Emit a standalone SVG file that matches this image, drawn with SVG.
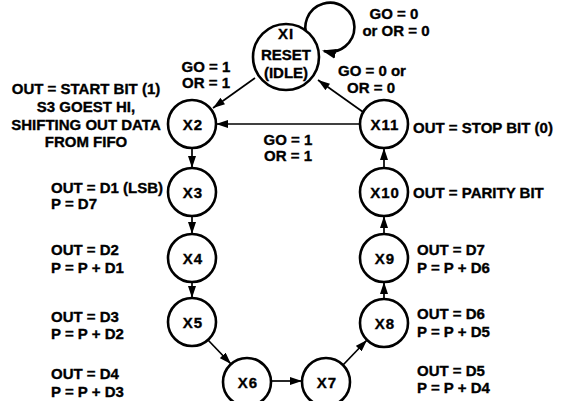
<svg xmlns="http://www.w3.org/2000/svg" width="567" height="401" viewBox="0 0 567 401">
<style>
text{font-family:"Liberation Sans",Arial,sans-serif;font-weight:bold;font-size:15px;fill:#000;stroke:#000;stroke-width:0.35}
.n circle{fill:#fff;stroke:#000;stroke-width:2.6}
.n text{text-anchor:middle;letter-spacing:1px}
.c line{stroke:#000;stroke-width:1.7;fill:none}
.c path{stroke:#000;stroke-width:2.6;fill:none}
.m{text-anchor:middle}
</style>
<defs>
<marker id="ah" viewBox="0 0 12 8" refX="12" refY="4" markerWidth="12" markerHeight="8" markerUnits="userSpaceOnUse" orient="auto">
<path d="M0,0 L12,4 L0,8 z" fill="#000"/>
</marker>
<marker id="ah2" viewBox="0 0 14 10" refX="12" refY="5" markerWidth="14" markerHeight="10" markerUnits="userSpaceOnUse" orient="auto">
<path d="M0,0 L14,5 L0,10 z" fill="#000"/>
</marker>
</defs>
<rect width="567" height="401" fill="#fff"/>
<g class="c">
<path d="M309,40 A24.5,24.5 0 1 1 324,51" marker-end="url(#ah2)"/>
<line x1="255" y1="78" x2="213" y2="108" marker-end="url(#ah)"/>
<line x1="360" y1="124" x2="216" y2="124" marker-end="url(#ah)"/>
<line x1="363" y1="112" x2="318" y2="80" marker-end="url(#ah)"/>
<line x1="192" y1="148" x2="192" y2="168" marker-end="url(#ah)"/>
<line x1="192" y1="216" x2="192" y2="234" marker-end="url(#ah)"/>
<line x1="192" y1="282" x2="192" y2="298" marker-end="url(#ah)"/>
<line x1="208" y1="340" x2="231" y2="364" marker-end="url(#ah)"/>
<line x1="271" y1="381" x2="302" y2="381" marker-end="url(#ah)"/>
<line x1="343" y1="365" x2="367" y2="340" marker-end="url(#ah)"/>
<line x1="384" y1="299" x2="384" y2="282" marker-end="url(#ah)"/>
<line x1="384" y1="234" x2="384" y2="216" marker-end="url(#ah)"/>
<line x1="384" y1="168" x2="384" y2="148" marker-end="url(#ah)"/>
</g>
<g id="XI" class="n"><circle cx="286" cy="57" r="33"/><text x="286" y="39">XI</text><text x="286" y="60" style="letter-spacing:0">RESET</text><text x="286" y="78" style="letter-spacing:0">(IDLE)</text></g>
<g id="X2" class="n"><circle cx="192" cy="124" r="24"/><text x="193" y="129.5">X2</text></g>
<g id="X3" class="n"><circle cx="192" cy="192" r="24"/><text x="193" y="197.5">X3</text></g>
<g id="X4" class="n"><circle cx="192" cy="258" r="24"/><text x="193" y="263.5">X4</text></g>
<g id="X5" class="n"><circle cx="192" cy="322" r="24"/><text x="193" y="327.5">X5</text></g>
<g id="X6" class="n"><circle cx="247" cy="382" r="24"/><text x="248" y="387.5">X6</text></g>
<g id="X7" class="n"><circle cx="326" cy="382" r="24"/><text x="327" y="387.5">X7</text></g>
<g id="X8" class="n"><circle cx="384" cy="323" r="24"/><text x="385" y="328.5">X8</text></g>
<g id="X9" class="n"><circle cx="384" cy="258" r="24"/><text x="385" y="263.5">X9</text></g>
<g id="X10" class="n"><circle cx="384" cy="192" r="24"/><text x="385" y="197.5">X10</text></g>
<g id="X11" class="n"><circle cx="384" cy="124" r="24"/><text x="385" y="129.5">X11</text></g>
<g id="labels">
<text class="m" x="394" y="19">GO = 0</text>
<text class="m" x="396" y="36">or OR = 0</text>
<text class="m" x="372" y="76">GO = 0 or</text>
<text class="m" x="371" y="93">OR = 0</text>
<text class="m" x="206" y="72">GO = 1</text>
<text class="m" x="206" y="88">OR = 1</text>
<text class="m" x="288" y="145">GO = 1</text>
<text class="m" x="288" y="161">OR = 1</text>
<text class="m" x="86" y="94">OUT = START BIT (1)</text>
<text class="m" x="86" y="111.5">S3 GOEST HI,</text>
<text class="m" x="86" y="129.5">SHIFTING OUT DATA</text>
<text class="m" x="86" y="147">FROM FIFO</text>
<text x="51" y="193">OUT = D1 (LSB)</text>
<text x="51" y="209">P = D7</text>
<text x="51" y="255">OUT = D2</text>
<text x="51" y="273">P = P + D1</text>
<text x="51" y="322">OUT = D3</text>
<text x="51" y="339">P = P + D2</text>
<text x="51" y="379">OUT = D4</text>
<text x="51" y="397">P = P + D3</text>
<text x="413" y="133">OUT = STOP BIT (0)</text>
<text x="413" y="198">OUT = PARITY BIT</text>
<text x="417" y="255">OUT = D7</text>
<text x="417" y="273">P = P + D6</text>
<text x="417" y="319">OUT = D6</text>
<text x="417" y="337">P = P + D5</text>
<text x="417" y="376">OUT = D5</text>
<text x="417" y="393">P = P + D4</text>
</g>
</svg>
